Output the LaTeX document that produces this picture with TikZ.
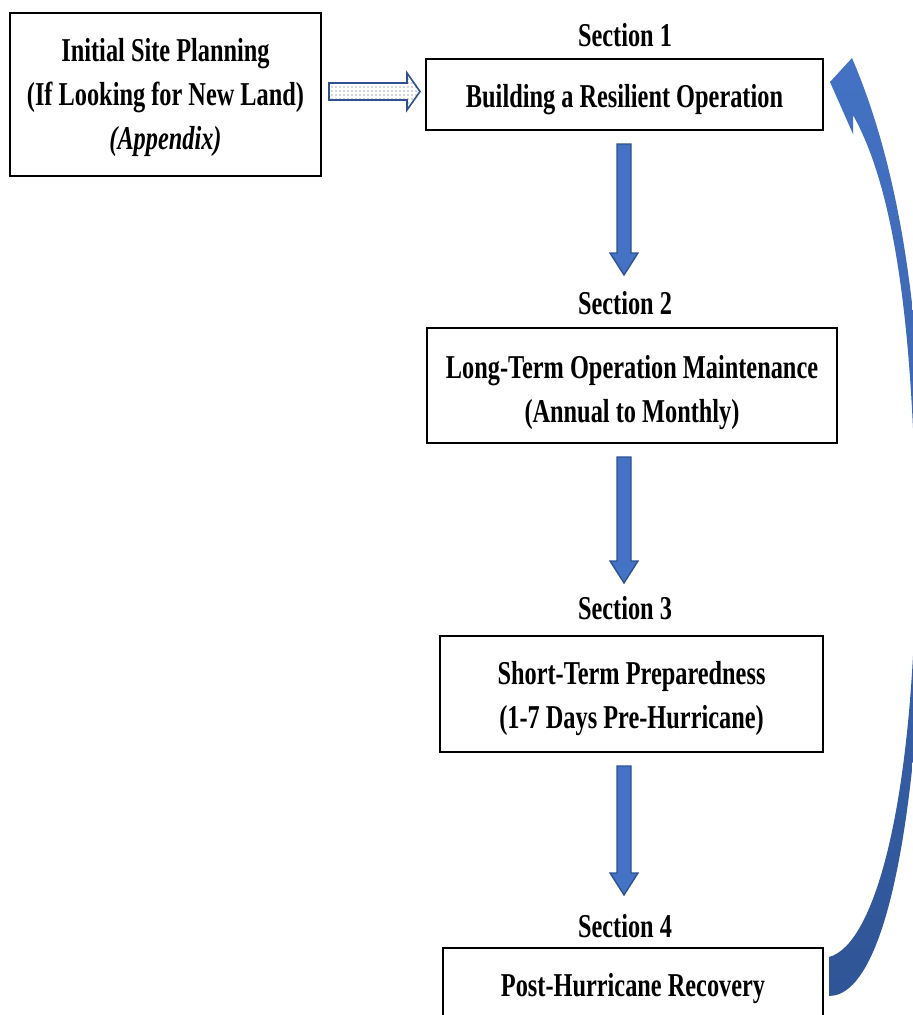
\documentclass[tikz,border=0pt]{standalone}
\usepackage{fontspec}
\setmainfont{Liberation Serif}[FakeStretch=0.73]
\usetikzlibrary{calc,patterns}
\definecolor{arrowblue}{HTML}{4472C4}
\definecolor{arrowline}{HTML}{2F528F}
\definecolor{arrowdark}{HTML}{2F5597}
\tikzset{
	box/.style = {draw, line width = 1.5pt, align = center, inner sep = 0pt, font = \fontsize{25pt}{33pt}\selectfont\bfseries},
	sectitle/.style = {anchor = base, inner sep = 0pt, font = \fontsize{25pt}{33pt}\selectfont\bfseries},
	blockarrow/.style = {fill = arrowblue, draw = arrowline, line width = 1pt},
	dotarrow/.style = {draw = arrowline, line width = 1.2pt, pattern = dots, pattern color = arrowline}
}
% block arrow pointing down, #1 = top, #2 = tip
\newcommand{\downblock}[2]{\draw[blockarrow] ($(#1)+(-7,0)$) -- ($(#2)+(-7,-22)$) -- ($(#2)+(-14,-22)$) -- (#2) -- ($(#2)+(14,-22)$) -- ($(#2)+(7,-22)$) -- ($(#1)+(7,0)$) -- cycle;}
\begin{document}
\begin{tikzpicture}[x = .75pt, y = -.75pt]
	\useasboundingbox (0,0) rectangle (913,1015);
	\clip (0,0) rectangle (913,1015);
	\coordinate (axis) at (624,0); % column of the down arrows
	\node[box, text height = 87.4pt, minimum width = 233.25pt, minimum height = 122.25pt] (init) at (165.5,94.5) {Initial Site Planning\\(If Looking for New Land)\\\textit{(Appendix)}};
	\node[box, text height = 25pt, minimum width = 297.75pt, minimum height = 53.25pt] (box1) at (624.5,94.5) {Building a Resilient Operation};
	\node[box, text height = 60.4pt, minimum width = 307.5pt, minimum height = 86.25pt] (box2) at (632,385.5) {Long-Term Operation Maintenance\\(Annual to Monthly)};
	\node[box, text height = 56.7pt, minimum width = 287.25pt, minimum height = 87pt] (box3) at (631.5,694) {Short-Term Preparedness\\(1-7 Days Pre-Hurricane)};
	\node[box, text height = 16.5pt, minimum width = 285pt, minimum height = 61.5pt] (box4) at (633,989) {Post-Hurricane Recovery};
	\node[sectitle] (sec1) at (625,46) {Section 1};
	\node[sectitle] (sec2) at (625,314) {Section 2};
	\node[sectitle] (sec3) at (625,619) {Section 3};
	\node[sectitle] (sec4) at (625,937) {Section 4};
	\foreach \a/\b in {box1/box2, box2/box3, box3/box4}{
		\coordinate (top) at ($(\a.south -| axis)+(0,13)$);
		\coordinate (tip) at ($(\b.north -| axis)+(0,-52)$);
		\downblock{top}{tip}
	}
	% dotted arrow into section 1
	\coordinate (ds) at ($(init.east)+(7,-3)$);
	\coordinate (de) at ($(box1.west)+(-5,-3)$);
	\draw[dotarrow] ($(ds)+(0,-8.5)$) -- ($(de)+(-13,-8.5)$) -- ($(de)+(-13,-18.5)$) -- (de) -- ($(de)+(-13,18.5)$) -- ($(de)+(-13,8.5)$) -- ($(ds)+(0,8.5)$) -- cycle;
	% curved arrow back to section 1
	\coordinate (cs) at ($(box4.east)+(5,-32)$);
	\coordinate (ce) at ($(box1.east)+(6,-12.5)$);
	\shade[top color = arrowblue, bottom color = arrowdark] (cs) .. controls (875,945) and (916,800) .. (916,540)
		.. controls (914,330) and (895,190) .. (853,115) -- (853,134) -- (ce) -- (852,58)
		.. controls (900,170) and (924,320) .. (924,540)
		.. controls (922,790) and (890,996) .. ($(cs)+(0,39)$) -- cycle;
\end{tikzpicture}
\end{document}
